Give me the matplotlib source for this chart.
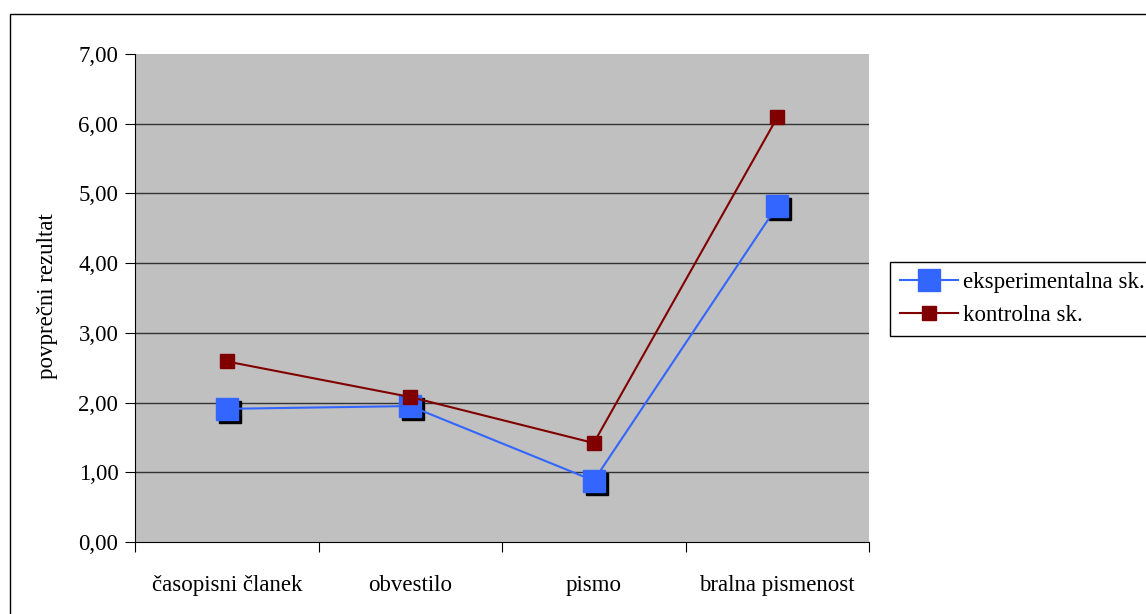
import matplotlib
matplotlib.use("Agg")
import matplotlib.pyplot as plt
import matplotlib.transforms as mtransforms
from matplotlib.patches import Rectangle
import numpy as np

categories = ["časopisni članek", "obvestilo", "pismo", "bralna pismenost"]
eksperimentalna = [1.91, 1.95, 0.88, 4.82]
kontrolna = [2.59, 2.08, 1.42, 6.09]
yticks = [0, 1, 2, 3, 4, 5, 6, 7]
ytick_labels = ["0,00", "1,00", "2,00", "3,00", "4,00", "5,00", "6,00", "7,00"]

plt.rcParams['font.family'] = ['Liberation Serif', 'DejaVu Serif']
plt.rcParams['font.size'] = 16.5

fig = plt.figure(figsize=(11.46, 6.14), dpi=100)
fig.patch.set_facecolor("white")
ax = fig.add_axes([135/1146, 1-542/614, (869-135)/1146, (542-54)/614])
ax.set_facecolor("#C0C0C0")

x = np.arange(len(categories))

# gridlines
for v in yticks[1:-1]:
    ax.axhline(v, color="#333333", lw=1, zorder=1)

# shadow for blue markers
shadow = mtransforms.offset_copy(ax.transData, fig=fig, x=3, y=-3, units='dots')
ax.plot(x, eksperimentalna, ls='none', marker='s', ms=16, mfc='black', mec='black',
        transform=shadow, zorder=2)
ax.plot(x, eksperimentalna, color="#3366FF", lw=1.5, marker='s', ms=16,
        mfc="#3366FF", mec="#3366FF", zorder=3, label="eksperimentalna sk.")
ax.plot(x, kontrolna, color="#800000", lw=1.5, marker='s', ms=10,
        mfc="#800000", mec="#800000", zorder=4, label="kontrolna sk.")

ax.set_xlim(-0.5, 3.5)
ax.set_ylim(0, 7)
ax.set_yticks(yticks)
ax.set_yticklabels(ytick_labels)
ax.set_xticks(np.arange(-0.5, 4, 1))
ax.set_xticklabels([])
ax.set_xticks(x, minor=True)
ax.set_xticklabels(categories, minor=True)
ax.tick_params(axis='x', which='major', length=7, direction='out', color='black')
ax.tick_params(axis='x', which='minor', length=0, pad=24)
ax.tick_params(axis='y', length=7, direction='out', pad=5)

for s in ['top', 'right']:
    ax.spines[s].set_visible(False)
ax.spines['left'].set_color('black')
ax.spines['bottom'].set_color('black')

fig.text(48/1146, 1-296/614, "povprečni rezultat", rotation=90, ha='center', va='center')

leg = fig.legend(loc='upper left', bbox_to_anchor=(890/1146, 1-262/614),
                 frameon=True, fancybox=False, edgecolor='black', framealpha=1,
                 borderaxespad=0, handlelength=2.5, borderpad=0.45,
                 labelspacing=0.5, handletextpad=0.25)
leg.get_frame().set_linewidth(1)

fig.patches.append(Rectangle((10/1146, -0.1), 1.2, 1-14/614+0.1, transform=fig.transFigure,
                             fill=False, edgecolor='black', lw=1, zorder=0))

fig.savefig("out.png", dpi=100)
